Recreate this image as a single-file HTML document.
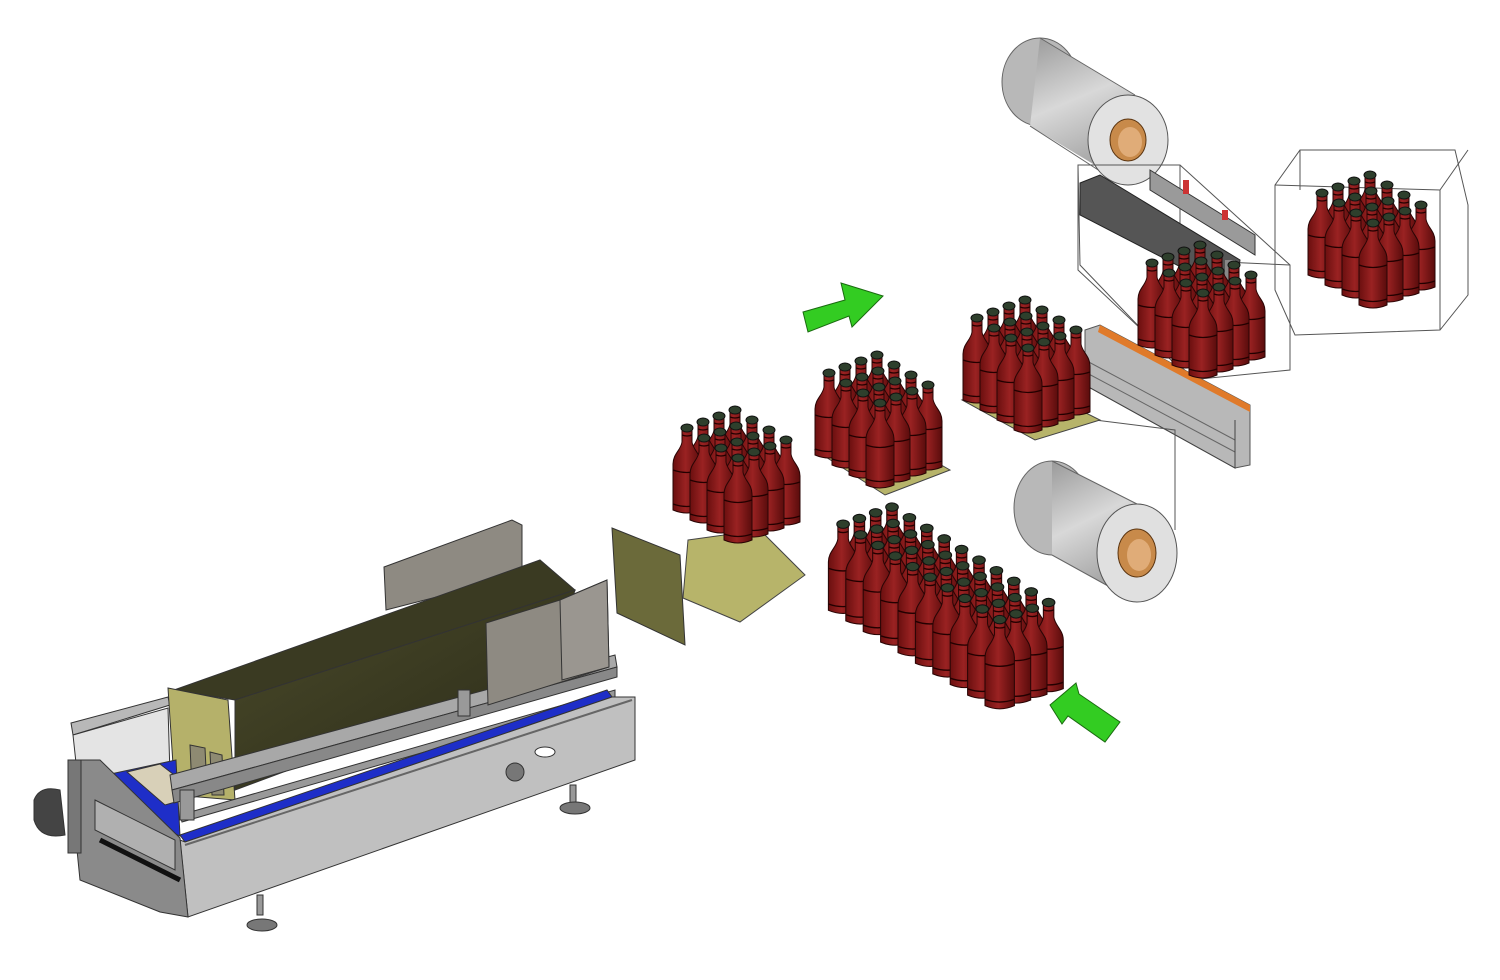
<!DOCTYPE html>
<html><head><meta charset="utf-8"><style>
html,body{margin:0;padding:0;background:#fff}
svg{display:block}
</style></head><body>
<svg id="s" width="1500" height="980" viewBox="0 0 1500 980" xmlns="http://www.w3.org/2000/svg">
<defs>
<linearGradient id="bg" x1="0" x2="1"><stop offset="0" stop-color="#6a0f0f"/><stop offset=".45" stop-color="#9a2222"/><stop offset="1" stop-color="#5a0c0c"/></linearGradient>
<linearGradient id="roll" x1="0" y1="0" x2="0.3" y2="1"><stop offset="0" stop-color="#9a9a9a"/><stop offset=".5" stop-color="#d8d8d8"/><stop offset="1" stop-color="#a0a0a0"/></linearGradient>
<linearGradient id="mesh" x1="0" y1="0" x2="1" y2="1"><stop offset="0" stop-color="#4a4a2a"/><stop offset="1" stop-color="#2a2a18"/></linearGradient>
<symbol id="b" overflow="visible">
<path d="M-5,3 L-5,16 C-6,24 -14,28 -14,38 L-14,84 Q0,90 14,84 L14,38 C14,28 6,24 5,16 L5,3 Z" fill="url(#bg)" stroke="#2a0505" stroke-width="1"/>
<path d="M-14,44 Q0,49 14,44 M-14,78 Q0,83 14,78 M-5,9 Q0,11 5,9" fill="none" stroke="#200" stroke-width="1.3"/>
<ellipse cx="0" cy="2" rx="6" ry="4" fill="#2e3f2c" stroke="#111" stroke-width="1"/>
</symbol>
</defs>

<!-- top roll -->
<ellipse cx="1040" cy="82" rx="38" ry="44" fill="#b8b8b8" stroke="#666"/>
<path d="M1040,38 L1135,95 L1128,185 L1030,126 Z" fill="url(#roll)"/>
<path d="M1040,38 L1135,95 M1030,126 L1120,184" stroke="#666" fill="none"/>
<ellipse cx="1128" cy="140" rx="40" ry="45" fill="#e2e2e2" stroke="#555"/>
<ellipse cx="1128" cy="140" rx="18" ry="21" fill="#c88a4a" stroke="#5a3410"/>
<ellipse cx="1130" cy="142" rx="12" ry="15" fill="#e0ac78"/>

<!-- top transparent box -->
<g fill="none" stroke="#555" stroke-width="1">
<path d="M1078,165 L1180,165 L1290,265 L1290,370 L1190,380 L1080,265 Z"/>
<path d="M1078,165 L1078,270 L1190,375"/>
<path d="M1180,165 L1180,260 L1290,265"/>
</g>
<path d="M1150,170 L1255,235 L1255,255 L1150,190 Z" fill="#9a9a9a" stroke="#333"/>
<path d="M1080,183 L1100,175 L1240,260 L1235,295 L1080,215 Z" fill="#555" stroke="#222"/>
<rect x="1183" y="180" width="6" height="14" fill="#c33"/>
<rect x="1222" y="210" width="6" height="10" fill="#c33"/>
<rect x="1225" y="260" width="10" height="20" fill="#888"/>

<!-- right box -->
<g fill="none" stroke="#555" stroke-width="1">
<path d="M1275,185 L1300,150 L1455,150 L1468,205 L1468,295 L1440,330 L1295,335 L1275,290 Z"/>
<path d="M1300,150 L1300,190 M1275,185 L1440,190 L1468,150"/>
<path d="M1440,190 L1440,330"/>
</g>

<!-- sealing bar -->
<path d="M1085,330 L1100,325 L1250,405 L1250,465 L1235,468 L1085,385 Z" fill="#b8b8b8" stroke="#555"/>
<path d="M1100,325 L1250,405 L1250,412 L1098,332 Z" fill="#e07a2a"/>
<path d="M1085,360 L1235,440 M1085,372 L1235,452" stroke="#666" fill="none"/>
<path d="M1085,385 L1235,468 L1235,420" stroke="#444" fill="none"/>
<path d="M1095,420 L1175,430 L1175,530" fill="none" stroke="#555"/>

<!-- bottom roll -->
<ellipse cx="1052" cy="508" rx="38" ry="47" fill="#b8b8b8" stroke="#666"/>
<path d="M1052,461 L1137,504 L1137,602 L1052,555 Z" fill="url(#roll)"/>
<path d="M1052,461 L1137,504 M1052,555 L1137,602" stroke="#666" fill="none"/>
<ellipse cx="1137" cy="553" rx="40" ry="49" fill="#e0e0e0" stroke="#555"/>
<ellipse cx="1137" cy="553" rx="19" ry="24" fill="#c88a4a" stroke="#5a3410"/>
<ellipse cx="1139" cy="555" rx="12" ry="16" fill="#e0ac78"/>

<!-- pads -->
<path d="M612,528 L680,555 L685,645 L617,613 Z" fill="#6b6a3a" stroke="#333"/>
<path d="M688,540 L760,530 L805,575 L740,622 L683,598 Z" fill="#b7b46a" stroke="#444"/>
<path d="M815,450 L880,430 L950,470 L885,495 Z" fill="#b7b46a" stroke="#444"/>
<path d="M962,400 L1030,385 L1100,420 L1035,440 Z" fill="#b7b46a" stroke="#444"/>

<!-- arrows -->
<path d="M803,312 L845,300 L841,283 L883,296 L852,327 L849,316 L808,332 Z" fill="#33cc22" stroke="#1a6a10"/>
<path d="M1050,705 L1076,683 L1079,694 L1120,722 L1105,742 L1068,716 L1062,724 Z" fill="#33cc22" stroke="#1a6a10"/>

<!-- conveyor -->
<g stroke="#333" stroke-width="1">
<path d="M71,723 L168,697 L170,705 L73,735 Z" fill="#b8b8b8"/>
<path d="M73,735 L168,708 L170,775 L80,800 Z" fill="#e4e4e4"/>
<path d="M384,567 L512,520 L522,525 L522,575 L386,610 Z" fill="#8e8a82"/>
<path d="M174,690 L540,560 L575,590 L235,700 Z" fill="#3a3a22"/>
<path d="M235,700 L575,590 L560,640 L485,697 L235,790 Z" fill="url(#mesh)"/>
<path d="M168,688 L228,700 L235,800 L175,795 Z" fill="#b5b16a"/>
<path d="M190,745 L205,748 L207,790 L192,790 Z M210,752 L222,755 L224,795 L212,795 Z" fill="#8e8a72"/>
<path d="M92,778 L176,760 L180,836 L95,800 Z" fill="#1e2ec8"/>
<path d="M127,772 L160,764 L200,795 L165,805 Z" fill="#d8d0b8"/>
<path d="M170,775 L615,655 L617,667 L172,790 Z" fill="#a8a8a8"/>
<path d="M172,790 L617,667 L617,677 L174,803 Z" fill="#888"/>
<path d="M180,815 L615,690 L615,697 L182,822 Z" fill="#999"/>
<path d="M486,623 L560,600 L607,580 L609,667 L488,705 Z" fill="#8e8a82"/>
<path d="M560,600 L607,580 L609,667 L562,680 Z" fill="#9a9690"/>
<rect x="458" y="690" width="12" height="26" fill="#999"/>
<rect x="180" y="790" width="14" height="30" fill="#999"/>
<path d="M180,835 L607,690 L612,697 L185,842 Z" fill="#1e2ec8"/>
<path d="M185,842 L612,697 L635,697 L635,760 L188,917 L180,840 Z" fill="#c0c0c0"/>
<path d="M185,845 L632,700" fill="none" stroke="#666" stroke-width="2"/>
<path d="M68,760 L100,760 L180,838 L188,917 L160,912 L80,880 Z" fill="#8a8a8a"/>
<path d="M95,800 L175,840 L175,870 L95,830 Z" fill="#b0b0b0"/>
<path d="M100,840 L180,880" stroke="#111" stroke-width="5"/>
<rect x="68" y="760" width="13" height="93" fill="#777"/>
<circle cx="515" cy="772" r="9" fill="#777"/>
<ellipse cx="545" cy="752" rx="10" ry="5" fill="#fff"/>
<rect x="570" y="785" width="6" height="18" fill="#999"/>
<ellipse cx="575" cy="808" rx="15" ry="6" fill="#777"/>
<rect x="257" y="895" width="6" height="20" fill="#999"/>
<ellipse cx="262" cy="925" rx="15" ry="6" fill="#777"/>
<path d="M34,800 Q40,785 60,790 L65,835 Q40,840 34,820 Z" fill="#444"/>
</g>

<g id="bottles"></g>
</svg>
<script>
(function(){
var g=document.getElementById('bottles');var NS='http://www.w3.org/2000/svg';
function cl(x0,y0,nA,nB,A,B,sc){
 var L=[];for(var i=0;i<nA;i++)for(var j=0;j<nB;j++)L.push([i,j]);
 L.sort(function(p,q){return (p[0]*A[1]+p[1]*B[1])-(q[0]*A[1]+q[1]*B[1]);});
 L.forEach(function(p){var u=document.createElementNS(NS,'use');
  u.setAttribute('href','#b');
  var x=x0+p[0]*A[0]+p[1]*B[0],y=y0+p[0]*A[1]+p[1]*B[1];
  u.setAttribute('transform','translate('+x+','+y+') scale('+sc+')');g.appendChild(u);});
}
cl(735,408,4,4,[17,10],[-16,6],1.0);
cl(877,353,4,4,[17,10],[-16,6],1.0);
cl(1025,298,4,4,[17,10],[-16,6],1.0);
cl(1200,243,4,4,[17,10],[-16,6],1.0);
cl(1370,173,4,4,[17,10],[-16,6],1.0);
cl(892,505,10,4,[17.4,10.6],[-16.3,5.7],1.05);
})();
</script>
</body></html>
